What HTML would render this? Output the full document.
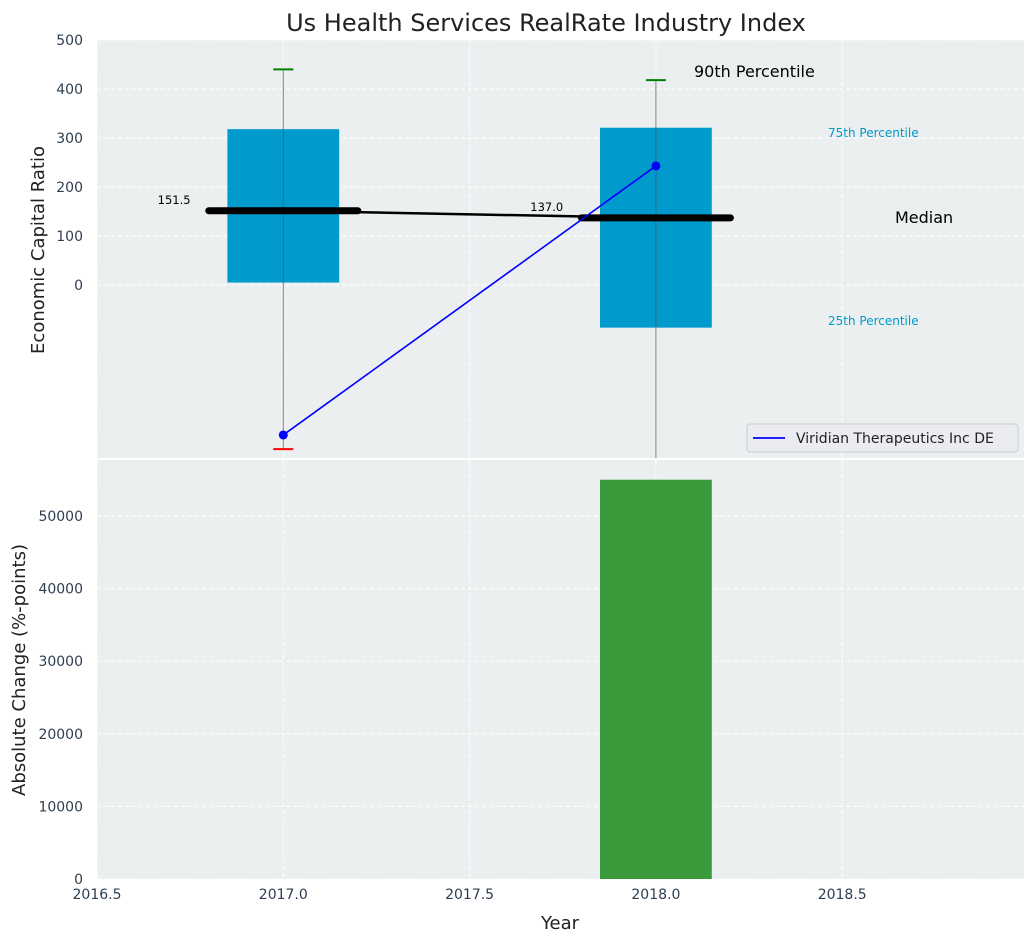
<!DOCTYPE html>
<html><head><meta charset="utf-8"><style>
body{margin:0;background:#fff;font-family:"Liberation Sans","DejaVu Sans",sans-serif}
svg text{font-family:"DejaVu Sans","Liberation Sans",sans-serif}
</style></head><body>
<svg id="c" width="1036" height="942" xmlns="http://www.w3.org/2000/svg"></svg>
<script>
const years=[2017,2018];
const q75=[318,321];
const q25=[5,-87];
const p90=[440,418];
const p10=[-335,-400];
const medians=[151.5,137.0];
const company=[-306,243];
const changeYears=[2018];
const changeValues=[55000];
const xTicks=[2016.5,2017.0,2017.5,2018.0,2018.5];
const yTopTicks=[0,100,200,300,400,500];
const yBotTicks=[0,10000,20000,30000,40000,50000];

const NS='http://www.w3.org/2000/svg';
const svg=document.getElementById('c');
const L=97,R=1024,T1=40,B1=458,T2=460,B2=879;
const xs=v=>L+(v-2016.5)*372.6;
const y1=v=>285-v*0.49;
const y2=v=>B2-v*0.00726;
function el(t,a,p){const e=document.createElementNS(NS,t);for(const k in a)e.setAttribute(k,a[k]);(p||svg).appendChild(e);return e;}
function tx(s,a){const e=el('text',a);e.textContent=s;return e;}

let e;
e=el('rect',{x:L,y:T1,width:R-L,height:B1-T1,fill:'#ebeff0'});

e=el('rect',{x:L,y:T2,width:R-L,height:B2-T2,fill:'#ebeff0'});


// grids
xTicks.forEach(v=>{
  el('line',{x1:xs(v),x2:xs(v),y1:T1,y2:B1,stroke:'#fff','stroke-dasharray':'4,3','stroke-width':1});
  el('line',{x1:xs(v),x2:xs(v),y1:T2,y2:B2,stroke:'#fff','stroke-dasharray':'4,3','stroke-width':1});
  e=tx(v.toFixed(1),{x:xs(v),y:B2+20,'font-size':14,fill:'#2e3e50','text-anchor':'middle'});
  
});
yTopTicks.forEach(v=>{
  el('line',{x1:L,x2:R,y1:y1(v),y2:y1(v),stroke:'#fff','stroke-dasharray':'4,3'});
  e=tx(String(v),{x:L-14,y:y1(v)+5,'font-size':14,fill:'#2e3e50','text-anchor':'end'});
  
});
yBotTicks.forEach(v=>{
  el('line',{x1:L,x2:R,y1:y2(v),y2:y2(v),stroke:'#fff','stroke-dasharray':'4,3'});
  e=tx(String(v),{x:L-14,y:y2(v)+5,'font-size':14,fill:'#2e3e50','text-anchor':'end'});
  
});
el('line',{x1:L,x2:R,y1:459,y2:459,stroke:'#fff','stroke-width':2});

const clip1=el('clipPath',{id:'cp1'});el('rect',{x:L,y:T1,width:R-L,height:B1-T1},clip1);
const g1=el('g',{'clip-path':'url(#cp1)'});

years.forEach((yr,i)=>{
  const x=xs(yr),w=0.3*372.6;
  e=el('rect',{x:x-w/2,y:y1(q75[i]),width:w,height:y1(q25[i])-y1(q75[i]),fill:'#009acd'},g1);
  
  e=el('line',{x1:x,x2:x,y1:y1(p90[i]),y2:y1(p10[i]),stroke:'#555','stroke-width':1,'stroke-opacity':0.7},g1);
  
  e=el('line',{x1:x-10,x2:x+10,y1:y1(p90[i]),y2:y1(p90[i]),stroke:'green','stroke-width':2},g1);
  
  e=el('line',{x1:x-10,x2:x+10,y1:y1(p10[i]),y2:y1(p10[i]),stroke:'red','stroke-width':2},g1);
  
});
e=el('polyline',{points:years.map((y,i)=>xs(y)+','+y1(medians[i])).join(' '),fill:'none',stroke:'#000','stroke-width':2.5},g1);

years.forEach((yr,i)=>{
  const x=xs(yr);
  e=el('line',{x1:x-0.2*372.6,x2:x+0.2*372.6,y1:y1(medians[i]),y2:y1(medians[i]),stroke:'#000','stroke-width':7,'stroke-linecap':'round'},g1);
  
  e=tx(medians[i].toFixed(1),{x:x-0.25*372.6-16,y:y1(medians[i])-7,'font-size':11.5,fill:'#000','text-anchor':'middle'});
  
});
e=el('polyline',{points:years.map((y,i)=>xs(y)+','+y1(company[i])).join(' '),fill:'none',stroke:'blue','stroke-width':1.6},g1);

years.forEach((yr,i)=>{
  e=el('circle',{cx:xs(yr),cy:y1(company[i]),r:4.5,fill:'blue'},g1);
  
});
// annotations
[['90th Percentile',694,77,16,'#000','start'],['75th Percentile',828,137,12,'#009acd','start'],['Median',895,223,16,'#000','start'],['25th Percentile',828,325,12,'#009acd','start']].forEach(a=>{
  e=tx(a[0],{x:a[1],y:a[2],'font-size':a[3],fill:a[4],'text-anchor':a[5]});
  
});
// bars
changeYears.forEach((yr,i)=>{
  const w=0.3*372.6;
  e=el('rect',{x:xs(yr)-w/2,y:y2(changeValues[i]),width:w,height:B2-y2(changeValues[i]),fill:'#3a9a3c'});
  
});
// legend
const lg=el('g',{});

el('rect',{x:747,y:424,width:271,height:28,fill:'#eaecf2',stroke:'#ccc',rx:3},lg);
el('line',{x1:753,x2:785,y1:438,y2:438,stroke:'blue','stroke-width':1.8},lg);
e=el('text',{x:796,y:443,'font-size':14,fill:'#222'},lg);e.textContent='Viridian Therapeutics Inc DE';
// titles
e=tx('Us Health Services RealRate Industry Index',{x:546,y:31,'font-size':24,fill:'#222','text-anchor':'middle'});

e=tx('Economic Capital Ratio',{x:0,y:0,'font-size':18,fill:'#222','text-anchor':'middle',transform:'translate(44,250) rotate(-90)'});

e=tx('Absolute Change (%-points)',{x:0,y:0,'font-size':18,fill:'#222','text-anchor':'middle',transform:'translate(25,670) rotate(-90)'});

e=tx('Year',{x:560,y:929,'font-size':18,fill:'#222','text-anchor':'middle'});

</script>
</body></html>
